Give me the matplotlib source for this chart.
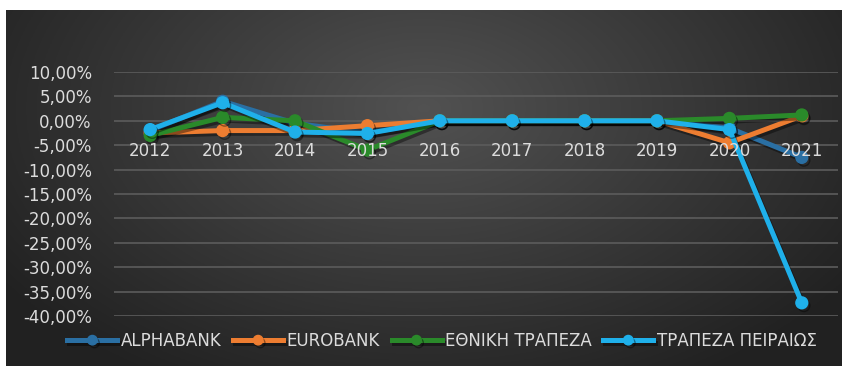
import numpy as np
import matplotlib
matplotlib.use("Agg")
from matplotlib import pyplot as plt
from matplotlib import patheffects as pe
from matplotlib.ticker import FuncFormatter

years = [2012, 2013, 2014, 2015, 2016, 2017, 2018, 2019, 2020, 2021]
alphabank = [-2.0, 4.0, -0.5, -2.5, 0.0, 0.0, 0.0, 0.0, -1.5, -7.5]
eurobank = [-2.5, -2.0, -2.0, -1.0, 0.0, 0.0, 0.0, 0.0, -4.5, 1.0]
ethniki = [-3.0, 0.7, 0.0, -6.0, 0.0, 0.0, 0.0, 0.0, 0.5, 1.2]
peiraios = [-1.8, 3.7, -2.3, -2.6, 0.0, 0.0, 0.0, 0.0, -1.8, -37.3]
names = ['ALPHABANK', 'EUROBANK', 'ΕΘΝΙΚΗ ΤΡΑΠΕΖΑ', 'ΤΡΑΠΕΖΑ ΠΕΙΡΑΙΩΣ']
colors = ['#2a6fa3', '#ed7d31', '#2a8a2a', '#1fb0ea']
yticks = [10, 5, 0, -5, -10, -15, -20, -25, -30, -35, -40]

plt.rcParams['font.family'] = ['DejaVu Sans']
txt = '#dcdcdc'

fig = plt.figure(figsize=(8.5, 3.69), dpi=100, facecolor='white')

# dark panel with radial gradient
bg = fig.add_axes([6 / 850, 1 - 366 / 369, 836 / 850, 356 / 369])
gx, gy = np.meshgrid(np.linspace(-1, 1, 400), np.linspace(-1, 1, 200))
r = np.sqrt((gx / 1.1) ** 2 + ((gy + 0.45) / 1.6) ** 2)
shade = np.clip(0.32 - 0.17 * r, 0.13, 0.33)
bg.imshow(np.dstack([shade] * 3), aspect='auto', extent=(0, 1, 0, 1), origin='upper')
bg.set_axis_off()

ax = fig.add_axes([114 / 850, 1 - 316 / 369, 724 / 850, 244 / 369])
ax.patch.set_alpha(0)

for yt in yticks:
    ax.axhline(yt, color='#5c5c5c', lw=1.2, zorder=1)

series = [alphabank, eurobank, ethniki, peiraios]
for vals, name, c in zip(series, names, colors):
    ax.plot(years, vals, color=c, lw=3.6, marker='o', markersize=8.5,
            label=name, zorder=2,
            path_effects=[pe.SimpleLineShadow(offset=(1.5, -2), shadow_color='black', alpha=0.4),
                          pe.Normal()])

ax.set_xlim(2011.5, 2021.5)
ax.set_ylim(-40, 10)
ax.set_yticks(yticks)
ax.set_xticks(years)
ax.yaxis.set_major_formatter(FuncFormatter(lambda v, p: f'{v:.2f}'.replace('.', ',') + '%'))
ax.set_axisbelow(False)
ax.spines['bottom'].set_position(('data', 0))
for s in ax.spines.values():
    s.set_visible(False)
ax.tick_params(axis='both', length=0, colors=txt, labelsize=12)
ax.tick_params(axis='x', pad=15)
ax.tick_params(axis='y', pad=16)

fig.legend(loc='center', bbox_to_anchor=(0.52, 1 - 341 / 369), ncol=4, frameon=False,
           fontsize=12, labelcolor=txt, handlelength=3.0, handletextpad=0.2,
           columnspacing=0.7, numpoints=1, markerscale=0.8)

fig.savefig('out.png', dpi=100, facecolor='white')
